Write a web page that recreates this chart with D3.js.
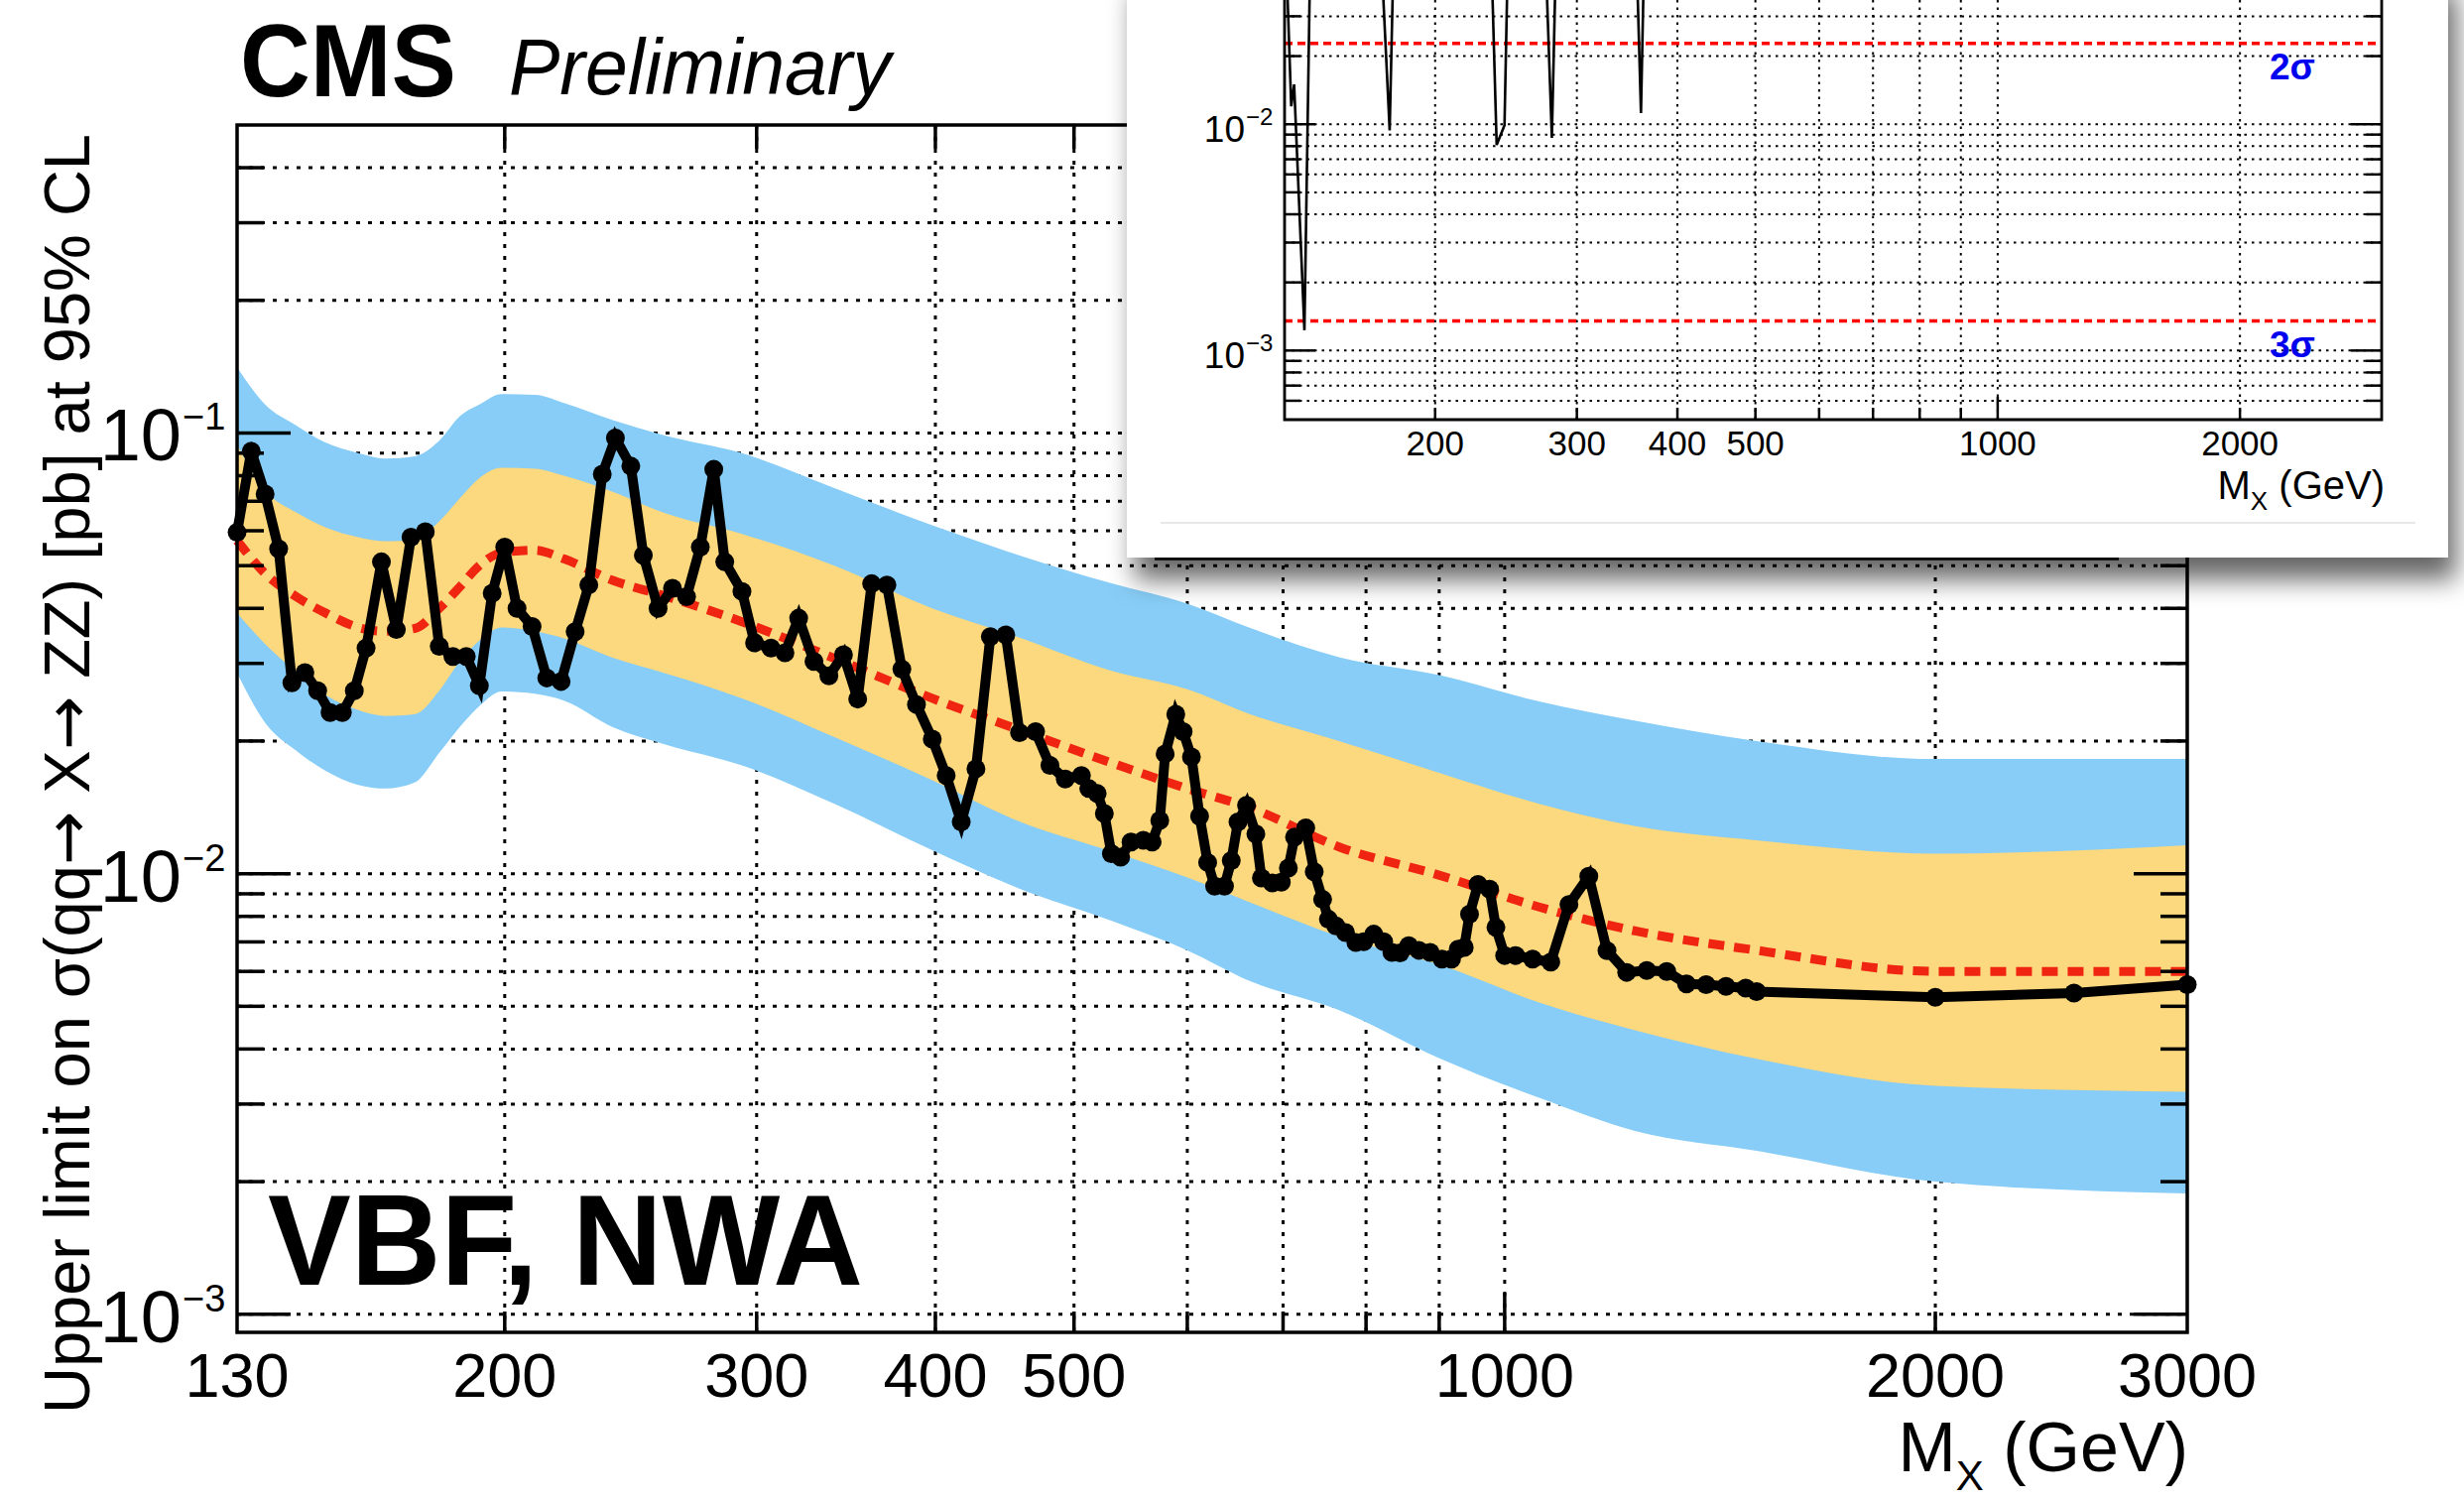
<!DOCTYPE html>
<html>
<head>
<meta charset="utf-8">
<script src="https://cdn.jsdelivr.net/npm/d3@7"></script>
<style>
  body { margin: 0; background: #fff; }
  svg { display: block; font-family: "Liberation Sans", Arial, Helvetica, sans-serif; }
</style>
</head>
<body>
<svg width="2484" height="1513"></svg>
<script>
// observed limit (pb) vs M_X (GeV)
var obsMass = [
  130, 133, 136, 139, 142, 145, 148, 151, 154, 157,
  160, 164, 168, 172, 176, 180, 184, 188, 192, 196,
  200, 204, 209, 214, 219, 224, 229, 234, 239, 245,
  250, 256, 262, 268, 274, 280, 285, 293, 299, 307,
  314, 321, 329, 337, 345, 353, 361, 370, 379, 388,
  398, 407, 417, 427, 437, 448, 458, 470, 481, 493,
  506, 512, 519, 525, 531, 539, 548, 559, 567, 574,
  579, 589, 596, 604, 612, 620, 627, 637, 644, 651,
  660, 670, 676, 688, 698, 706, 713, 726, 736, 746,
  753, 762, 774, 787, 797, 810, 823, 834, 845, 857,
  871, 887, 904, 918, 928, 937, 945, 958, 976, 986,
  1000, 1018, 1046, 1077, 1109, 1145, 1179, 1217, 1257, 1298,
  1340, 1383, 1428, 1474, 1500, 2000, 2500, 3000];
var obsLimit = [
  0.0595, 0.0909, 0.0727, 0.0546, 0.0271, 0.0286, 0.0260, 0.0232, 0.0232, 0.0260,
  0.0325, 0.0510, 0.0358, 0.0580, 0.0597, 0.0328, 0.0311, 0.0311, 0.0267, 0.0433,
  0.0551, 0.0400, 0.0364, 0.0278, 0.0273, 0.0354, 0.0452, 0.0806, 0.0974, 0.0841,
  0.0528, 0.0400, 0.0444, 0.0425, 0.0551, 0.0827, 0.0510, 0.0437, 0.0334, 0.0325,
  0.0317, 0.0380, 0.0303, 0.0281, 0.0314, 0.0249, 0.0455, 0.0452, 0.0291, 0.0242,
  0.0202, 0.0167, 0.0131, 0.0173, 0.0345, 0.0348, 0.0209, 0.0210, 0.0176, 0.0164,
  0.0167, 0.0156, 0.0152, 0.0137, 0.0111, 0.0109, 0.0118, 0.0119, 0.0118, 0.0132,
  0.0187, 0.0230, 0.0210, 0.0184, 0.0135, 0.0106, 0.00937, 0.00937, 0.0107, 0.0131,
  0.0143, 0.0123, 0.00978, 0.00953, 0.00956, 0.0103, 0.0121, 0.0127, 0.0101, 0.00874,
  0.00788, 0.00761, 0.00735, 0.00698, 0.00701, 0.00729, 0.00701, 0.00663, 0.00661, 0.00686,
  0.0067, 0.00663, 0.0064, 0.0064, 0.00674, 0.0068, 0.00809, 0.00945, 0.00922, 0.00755,
  0.00652, 0.00652, 0.0064, 0.0063, 0.00851, 0.00987, 0.00669, 0.00597, 0.00603, 0.0060,
  0.00562, 0.0056, 0.00555, 0.0055, 0.0054, 0.00524, 0.00536, 0.0056];

// expected limit and bands
var bandMass = [130, 136, 143, 150, 158, 165, 173, 180, 186, 192, 199, 210, 220, 238, 258,
  293, 340, 398, 456, 532, 600, 664, 766, 902, 1057, 1237, 1500, 2000, 3000];
var expLimit = [0.057, 0.048, 0.0425, 0.039, 0.0362, 0.0355, 0.036, 0.040, 0.0447, 0.050,
  0.0535, 0.0542, 0.0518, 0.0463, 0.0428, 0.0373, 0.0308, 0.0250, 0.0213, 0.0178,
  0.0156, 0.0141, 0.0115, 0.0099, 0.0084, 0.0074, 0.0067, 0.0060, 0.0060];
var plus2 = [0.141, 0.116, 0.104, 0.095, 0.090, 0.0875, 0.0885, 0.096, 0.109, 0.116,
  0.1225, 0.122, 0.117, 0.107, 0.099, 0.090, 0.075, 0.0617, 0.053, 0.0455,
  0.041, 0.0361, 0.031, 0.0282, 0.0246, 0.0222, 0.0200, 0.0182, 0.0182];
var plus1 = [0.094, 0.074, 0.066, 0.061, 0.058, 0.0568, 0.0573, 0.063, 0.071, 0.079,
  0.0834, 0.083, 0.080, 0.0735, 0.066, 0.059, 0.050, 0.040, 0.0345, 0.0288,
  0.0262, 0.0230, 0.0200, 0.0169, 0.0144, 0.0128, 0.0119, 0.0111, 0.0116];
var minus1 = [0.0390, 0.0332, 0.0287, 0.0254, 0.0235, 0.0228, 0.0230, 0.0260, 0.0303, 0.0338,
  0.0362, 0.0355, 0.0342, 0.0309, 0.0286, 0.0250, 0.0204, 0.0163, 0.0132, 0.0112,
  0.0098, 0.0086, 0.0072, 0.0062, 0.0051, 0.0044, 0.0038, 0.0033, 0.0032];
var minus2 = [0.0285, 0.0220, 0.0190, 0.0171, 0.0159, 0.0156, 0.0161, 0.0188, 0.0215, 0.0240,
  0.0259, 0.0256, 0.0247, 0.0215, 0.0197, 0.0176, 0.0144, 0.0113, 0.0093, 0.0078,
  0.0067, 0.0057, 0.0049, 0.0038, 0.0031, 0.0026, 0.00235, 0.0020, 0.00188];

var xTickLabels = [130, 200, 300, 400, 500, 1000, 2000, 3000];
var xTicks = [200, 300, 400, 500, 600, 700, 800, 900, 1000, 2000];

// inset: local p-value
var pMass = [130, 131, 132.5, 133.6, 137.6, 139.7, 142, 160, 172.2, 175.6, 177.2, 190,
  225, 235.5, 238.5, 243.9, 245.8, 255, 270, 275.2, 279.3, 282, 300, 345, 356.8,
  360.4, 363, 380, 1000, 3000];
var pLocal = [0.2, 0.04, 0.012, 0.015, 0.00123, 0.04, 0.2, 0.3, 0.04, 0.0094, 0.04, 0.3,
  0.3, 0.04, 0.0081, 0.0099, 0.04, 0.2, 0.2, 0.04, 0.0087, 0.04, 0.2, 0.2, 0.04,
  0.0112, 0.04, 0.3, 0.5, 0.5];
var sigmaLabels = ['2\u03c3', '3\u03c3'];
var sigmaP = [0.02275, 0.00135];
var insetXLabels = [200, 300, 400, 500, 1000, 2000];

// ---------------------------------------------------------------
var svg = d3.select('svg');
var defs = svg.append('defs');

function logSteps(lo, hi) {
    var out = [];
    for (var e = -4; e <= 0; e++)
        for (var k = 1; k <= 9; k++) {
            var v = +(k * Math.pow(10, e)).toPrecision(2);
            if (v > lo * 1.001 && v < hi * 0.999) out.push(v);
        }
    return out;
}
var isDecade = v => Math.abs(Math.log10(v) - Math.round(Math.log10(v))) < 1e-6;

// main plot ******************************************************
var L = 239, R = 2205, T = 126, B = 1343;
var x = d3.scaleLog().domain([130, 3000]).range([L, R]);
var y = d3.scaleLog().domain([0.00091, 0.5]).range([B, T]);
var yVals = logSteps(0.00091, 0.5);

var main = svg.append('g');

var grid = main.append('g')
    .attr('stroke', '#000').attr('stroke-width', 3).attr('stroke-dasharray', '4,8');
grid.selectAll('line.gh').data(yVals).enter().append('line').attr('class', 'gh')
    .attr('x1', L).attr('x2', R).attr('y1', d => y(d)).attr('y2', d => y(d));
grid.selectAll('line.gv').data(xTicks).enter().append('line').attr('class', 'gv')
    .attr('x1', d => x(d)).attr('x2', d => x(d)).attr('y1', T).attr('y2', B);

var rows = bandMass.map((m, i) => ({ m: m, e: expLimit[i], p1: plus1[i], m1: minus1[i], p2: plus2[i], m2: minus2[i] }));

var area2 = d3.area().x(d => x(d.m)).y0(d => y(d.m2)).y1(d => y(d.p2)).curve(d3.curveMonotoneX);
var area1 = d3.area().x(d => x(d.m)).y0(d => y(d.m1)).y1(d => y(d.p1)).curve(d3.curveMonotoneX);
main.append('path').datum(rows).attr('d', area2).attr('fill', '#87cdf7');
main.append('path').datum(rows).attr('d', area1).attr('fill', '#fcd87e');

var expLine = d3.line().x(d => x(d.m)).y(d => y(d.e)).curve(d3.curveMonotoneX);
main.append('path').datum(rows).attr('d', expLine)
    .attr('fill', 'none').attr('stroke', '#ef2512').attr('stroke-width', 9)
    .attr('stroke-dasharray', '16,10');

var obs = obsMass.map((m, i) => ({ m: m, v: obsLimit[i] }));
var obsLine = d3.line().x(d => x(d.m)).y(d => y(d.v));
main.append('path').datum(obs).attr('d', obsLine)
    .attr('fill', 'none').attr('stroke', '#000').attr('stroke-width', 10)
    .attr('stroke-linejoin', 'miter').attr('stroke-miterlimit', 4);
main.selectAll('circle.obs').data(obs).enter().append('circle').attr('class', 'obs')
    .attr('cx', d => x(d.m)).attr('cy', d => y(d.v)).attr('r', 9.5).attr('fill', '#000');

// frame and ticks
var ticks = main.append('g').attr('stroke', '#000').attr('stroke-width', 3.5);
ticks.selectAll('line.yl').data(yVals).enter().append('line').attr('class', 'yl')
    .attr('x1', L).attr('x2', d => L + (isDecade(d) ? 54 : 27))
    .attr('y1', d => y(d)).attr('y2', d => y(d));
ticks.selectAll('line.yr').data(yVals).enter().append('line').attr('class', 'yr')
    .attr('x1', R).attr('x2', d => R - (isDecade(d) ? 54 : 27))
    .attr('y1', d => y(d)).attr('y2', d => y(d));
ticks.selectAll('line.xb').data(xTicks).enter().append('line').attr('class', 'xb')
    .attr('x1', d => x(d)).attr('x2', d => x(d))
    .attr('y1', B).attr('y2', d => B - (d === 1000 ? 40 : 21));
ticks.selectAll('line.xt').data(xTicks).enter().append('line').attr('class', 'xt')
    .attr('x1', d => x(d)).attr('x2', d => x(d))
    .attr('y1', T).attr('y2', d => T + (d === 1000 ? 40 : 24));
main.append('rect').attr('x', L).attr('y', T).attr('width', R - L).attr('height', B - T)
    .attr('fill', 'none').attr('stroke', '#000').attr('stroke-width', 3.5);

// axis labels
main.selectAll('text.xl').data(xTickLabels).enter().append('text').attr('class', 'xl')
    .attr('x', d => x(d)).attr('y', 1408).attr('text-anchor', 'middle')
    .attr('font-size', 63).text(d => d);

var decades = yVals.filter(isDecade);
main.selectAll('text.yl').data(decades).enter().append('text').attr('class', 'yl')
    .attr('x', 183).attr('y', d => y(d) + 28).attr('text-anchor', 'end')
    .attr('font-size', 74).text('10');
main.selectAll('text.ys').data(decades).enter().append('text').attr('class', 'ys')
    .attr('x', 184).attr('y', d => y(d) - 3).attr('font-size', 38)
    .text(d => '\u2212' + (-Math.round(Math.log10(d))));

var xt = main.append('text').attr('x', 2206).attr('y', 1483).attr('text-anchor', 'end').attr('font-size', 70);
xt.append('tspan').text('M');
xt.append('tspan').attr('font-size', 42).attr('dy', 19).text('X');
xt.append('tspan').attr('dy', -19).text(' (GeV)');

var yt = main.append('text').attr('transform', 'translate(90,1425) rotate(-90)')
    .attr('font-size', 64).attr('textLength', 1290).attr('lengthAdjust', 'spacingAndGlyphs');
yt.append('tspan').text('Upper limit on \u03c3(qq');
yt.append('tspan').attr('font-family', '"DejaVu Sans"').text('\u2192');
yt.append('tspan').text(' X');
yt.append('tspan').attr('font-family', '"DejaVu Sans"').text('\u2192');
yt.append('tspan').text(' ZZ) [pb] at 95% CL');

main.append('text').attr('x', 242).attr('y', 97).attr('font-size', 104).attr('font-weight', 'bold')
    .attr('textLength', 218).attr('lengthAdjust', 'spacingAndGlyphs').text('CMS');
main.append('text').attr('x', 513).attr('y', 95).attr('font-size', 79).attr('font-style', 'italic')
    .attr('textLength', 385).attr('lengthAdjust', 'spacingAndGlyphs').text('Preliminary');
main.append('text').attr('x', 270).attr('y', 1295).attr('font-size', 130).attr('font-weight', 'bold')
    .attr('textLength', 600).attr('lengthAdjust', 'spacingAndGlyphs').text('VBF, NWA');

// hidden legend edge peeking under the inset
main.append('line').attr('x1', 1164).attr('x2', 2136).attr('y1', 563).attr('y2', 563)
    .attr('stroke', '#000').attr('stroke-width', 3.5);

// inset ***********************************************************
var shadow = defs.append('filter').attr('id', 'shadow')
    .attr('x', '-5%').attr('y', '-5%').attr('width', '115%').attr('height', '125%');
shadow.append('feDropShadow').attr('dx', 8).attr('dy', 22).attr('stdDeviation', 13)
    .attr('flood-color', '#000').attr('flood-opacity', 0.6);

var inset = svg.append('g');
inset.append('rect').attr('x', 1136).attr('y', -30).attr('width', 1332).attr('height', 592)
    .attr('fill', '#fff').attr('filter', 'url(#shadow)');

var iL = 1295, iR = 2401, iB = 423;
var xi = d3.scaleLog().domain([130, 3000]).range([iL, iR]);
var yi = d3.scaleLog().domain([0.0005, 1]).range([422, -331]);
var iyVals = logSteps(0.0005, 1).filter(v => yi(v) > 0);

var igrid = inset.append('g').attr('stroke', '#000').attr('stroke-width', 2).attr('stroke-dasharray', '2.5,5');
igrid.selectAll('line.gh').data(iyVals).enter().append('line').attr('class', 'gh')
    .attr('x1', iL).attr('x2', iR).attr('y1', d => yi(d)).attr('y2', d => yi(d));
igrid.selectAll('line.gv').data(xTicks).enter().append('line').attr('class', 'gv')
    .attr('x1', d => xi(d)).attr('x2', d => xi(d)).attr('y1', 0).attr('y2', iB);

inset.selectAll('line.sig').data(sigmaP).enter().append('line').attr('class', 'sig')
    .attr('x1', iL).attr('x2', iR).attr('y1', d => yi(d)).attr('y2', d => yi(d))
    .attr('stroke', '#ff0000').attr('stroke-width', 3.5).attr('stroke-dasharray', '8,5');
inset.selectAll('text.sig').data(sigmaP).enter().append('text').attr('class', 'sig')
    .attr('x', 2311).attr('y', d => yi(d) + 36).attr('text-anchor', 'middle')
    .attr('font-size', 37).attr('font-weight', 'bold').attr('fill', '#0000ee')
    .text((d, i) => sigmaLabels[i]);

var pts = pMass.map((m, i) => ({ m: m, p: pLocal[i] }));
inset.append('path').datum(pts)
    .attr('d', d3.line().x(d => xi(d.m)).y(d => yi(d.p)))
    .attr('fill', 'none').attr('stroke', '#000').attr('stroke-width', 2.6);

var iticks = inset.append('g').attr('stroke', '#000').attr('stroke-width', 2.5);
iticks.selectAll('line.yl').data(iyVals).enter().append('line').attr('class', 'yl')
    .attr('x1', iL).attr('x2', d => iL + (isDecade(d) ? 31 : 16))
    .attr('y1', d => yi(d)).attr('y2', d => yi(d));
iticks.selectAll('line.yr').data(iyVals).enter().append('line').attr('class', 'yr')
    .attr('x1', iR).attr('x2', d => iR - (isDecade(d) ? 31 : 16))
    .attr('y1', d => yi(d)).attr('y2', d => yi(d));
iticks.selectAll('line.xb').data(xTicks).enter().append('line').attr('class', 'xb')
    .attr('x1', d => xi(d)).attr('x2', d => xi(d))
    .attr('y1', iB).attr('y2', d => iB - (d === 1000 ? 23 : 12));
inset.append('path').attr('d', `M${iL},0V${iB}H${iR}V0`)
    .attr('fill', 'none').attr('stroke', '#000').attr('stroke-width', 2.8);

inset.selectAll('text.xl').data(insetXLabels).enter().append('text').attr('class', 'xl')
    .attr('x', d => xi(d)).attr('y', 459).attr('text-anchor', 'middle')
    .attr('font-size', 35).text(d => d);
var idec = iyVals.filter(isDecade);
inset.selectAll('text.yl').data(idec).enter().append('text').attr('class', 'yl')
    .attr('x', 1255).attr('y', d => yi(d) + 18).attr('text-anchor', 'end')
    .attr('font-size', 37).text('10');
inset.selectAll('text.ys').data(idec).enter().append('text').attr('class', 'ys')
    .attr('x', 1256).attr('y', d => yi(d) + 1).attr('font-size', 24)
    .text(d => '\u2212' + (-Math.round(Math.log10(d))));

var ixt = inset.append('text').attr('x', 2404).attr('y', 503).attr('text-anchor', 'end').attr('font-size', 40);
ixt.append('tspan').text('M');
ixt.append('tspan').attr('font-size', 26).attr('dy', 11).text('X');
ixt.append('tspan').attr('dy', -11).text(' (GeV)');

inset.append('line').attr('x1', 1170).attr('x2', 2435).attr('y1', 527).attr('y2', 527)
    .attr('stroke', '#e8e8e8').attr('stroke-width', 2);
</script>
</body>
</html>
